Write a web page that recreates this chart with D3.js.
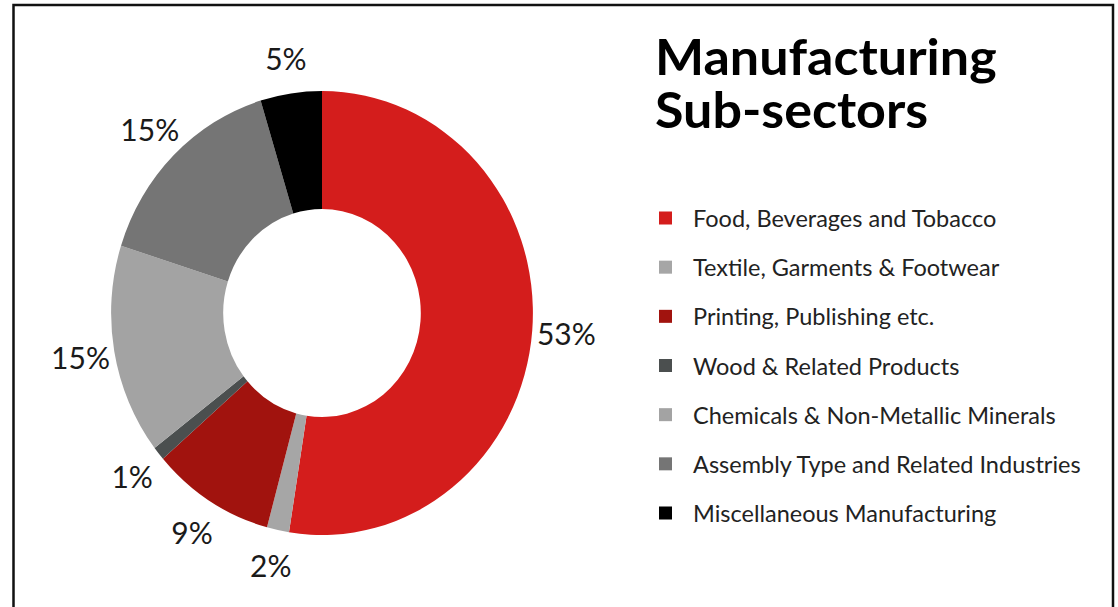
<!DOCTYPE html>
<html>
<head>
<meta charset="utf-8">
<script src="https://cdn.jsdelivr.net/npm/d3@7"></script>
<style>
  body { margin: 0; background: #fff; }
  text { font-family: Lato, "Open Sans", sans-serif; }
</style>
</head>
<body>
<div id="chart"></div>
<script>
// data (clockwise from 12 o'clock)
const categories = [
    "Food, Beverages and Tobacco",
    "Textile, Garments & Footwear",
    "Printing, Publishing etc.",
    "Wood & Related Products",
    "Chemicals & Non-Metallic Minerals",
    "Assembly Type and Related Industries",
    "Miscellaneous Manufacturing"
];
const shares = [52.5, 1.7, 9.4, 1.0, 15.3, 15.4, 4.7];
const colors = ["#d41d1c", "#a6a6a6", "#a1130e", "#4b4f4f", "#a3a3a3", "#757575", "#000000"];
const title = ["Manufacturing", "Sub-sectors"];

const W = 1118, H = 607;
const cx = 322, cy = 313;
const rOuter = 222, rInner = 104, xStretch = 0.95;

const svg = d3.select("#chart")
    .append("svg")
    .attr("width", W)
    .attr("height", H);

// frame (no bottom edge in the original)
svg.append("path")
    .attr("d", `M13.5,${H} V5 H1113 V${H}`)
    .attr("fill", "none")
    .attr("stroke", "#111")
    .attr("stroke-width", 2.5);

const pie = d3.pie().sort(null).value(d => d);
const arcs = pie(shares);

const arc = d3.arc().innerRadius(rInner).outerRadius(rOuter);

const ring = svg.append("g")
    .attr("transform", `translate(${cx},${cy}) scale(${xStretch},1)`);

ring.selectAll("path")
    .data(arcs)
    .join("path")
    .attr("d", arc)
    .attr("fill", (d, i) => colors[i]);

// percentage labels outside the ring
const labelR = 258;
svg.append("g")
    .selectAll("text")
    .data(arcs)
    .join("text")
    .attr("x", d => cx + xStretch * labelR * Math.sin((d.startAngle + d.endAngle) / 2))
    .attr("y", d => cy - labelR * Math.cos((d.startAngle + d.endAngle) / 2))
    .attr("text-anchor", "middle")
    .attr("dominant-baseline", "central")
    .attr("font-size", 30)
    .attr("fill", "#1a1a1a")
    .text(d => Math.round(d.data) + "%");

// title
svg.append("g")
    .selectAll("text")
    .data(title)
    .join("text")
    .attr("x", 655)
    .attr("y", (d, i) => 75 + i * 53)
    .attr("font-size", 50)
    .attr("font-weight", "bold")
    .attr("fill", "#000")
    .text(d => d)
    .each(function () {
        // stretch a touch to the width of the original's narrower face
        const w = this.getComputedTextLength();
        d3.select(this).attr("textLength", w * 1.04).attr("lengthAdjust", "spacingAndGlyphs");
    });

// legend
const ly = d3.scalePoint()
    .domain(categories)
    .range([218, 513]);

const legend = svg.append("g")
    .selectAll("g")
    .data(categories)
    .join("g")
    .attr("transform", d => `translate(659,${ly(d)})`);

legend.append("rect")
    .attr("x", 0)
    .attr("y", -6.5)
    .attr("width", 13)
    .attr("height", 13)
    .attr("fill", (d, i) => colors[i]);

legend.append("text")
    .attr("x", 34)
    .attr("y", 0)
    .attr("dominant-baseline", "central")
    .attr("font-size", 23.5)
    .attr("fill", "#222")
    .text(d => d);
</script>
</body>
</html>
